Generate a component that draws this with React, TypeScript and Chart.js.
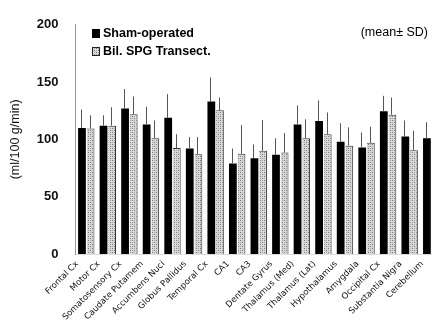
import React, { useEffect, useRef } from "react";
import { Chart, registerables } from "chart.js";

Chart.register(...registerables);

const regions = [
  "Frontal Cx", "Motor Cx", "Somatosensory Cx", "Caudate Putamem", "Accumbens Nuci",
  "Globus Pallidus", "Temporal Cx", "CA1", "CA3", "Dentate Gyrus", "Thalamus (Med)",
  "Thalamus (Lat)", "Hypothalamus", "Amygdala", "Occipital Cx", "Substantia Nigra", "Cerebellum",
];
const shamMean = [110, 112, 127, 113, 119, 92, 133, 79, 83.5, 86.5, 113, 116, 98, 93, 124.5, 102.5, 101];
const shamSD = [16, 9, 17, 15.5, 20.5, 10, 21, 13, 12, 14.5, 16.5, 18, 16, 13, 13.5, 14, 14];
const spgMean = [109.5, 112, 122, 101, 92.5, 87, 125.5, 87.5, 90, 88.5, 101, 104.5, 94.5, 97, 121.5, 90.5, 98];
const spgSD = [11.5, 16, 15.5, 15.5, 12, 15, 11, 25, 27, 17, 16.5, 19, 16, 14, 15, 17, 14];
const seriesLabels = ["Sham-operated", "Bil. SPG Transect."];
const noteText = "(mean\u00b1 SD)";
const yTitle = "(ml/100 g/min)";

function makePattern(): CanvasPattern | string {
  const c = document.createElement("canvas");
  c.width = 4;
  c.height = 4;
  const g = c.getContext("2d");
  if (!g) return "#bbb";
  g.fillStyle = "#d8d8d8";
  g.fillRect(0, 0, 4, 4);
  g.fillStyle = "#7a7a7a";
  g.fillRect(0, 0, 1, 1);
  g.fillRect(2, 2, 1, 1);
  g.fillStyle = "#aaaaaa";
  g.fillRect(2, 0, 1, 1);
  g.fillRect(0, 2, 1, 1);
  const ctx = document.createElement("canvas").getContext("2d");
  return ctx ? (ctx.createPattern(c, "repeat") as CanvasPattern) : "#bbb";
}

export default function App() {
  const ref = useRef<HTMLCanvasElement | null>(null);

  useEffect(() => {
    if (!ref.current) return;
    const pattern = makePattern();
    const sds = [shamSD, spgSD];

    const extras = {
      id: "extras",
      afterDatasetsDraw(chart: any) {
        const ctx = chart.ctx;
        const y = chart.scales.y;
        ctx.save();
        ctx.strokeStyle = "#555";
        ctx.lineWidth = 1;
        chart.data.datasets.forEach((ds: any, di: number) => {
          const meta = chart.getDatasetMeta(di);
          meta.data.forEach((bar: any, i: number) => {
            const v = ds.data[i];
            if (v == null) return;
            const top = y.getPixelForValue(v + sds[di][i]);
            const x = Math.round(bar.x - 1) + 0.5;
            ctx.beginPath();
            ctx.moveTo(x, bar.y);
            ctx.lineTo(x, top);
            ctx.stroke();
          });
        });
        // legend
        ctx.font = "bold 12.5px 'Liberation Sans', Arial, sans-serif";
        ctx.textBaseline = "middle";
        ctx.fillStyle = "#000";
        ctx.fillRect(92, 29, 8, 9);
        ctx.fillText(seriesLabels[0], 103, 34);
        ctx.fillStyle = pattern as any;
        ctx.fillRect(92, 47, 8, 9);
        ctx.strokeStyle = "#222";
        ctx.strokeRect(92.5, 47.5, 7, 8);
        ctx.fillStyle = "#000";
        ctx.fillText(seriesLabels[1], 103, 52);
        ctx.font = "12.5px 'Liberation Sans', Arial, sans-serif";
        ctx.textAlign = "right";
        ctx.fillText(noteText, 428, 33);
        ctx.restore();
      },
    };

    const chart = new Chart(ref.current, {
      type: "bar",
      data: {
        labels: regions,
        datasets: [
          {
            label: seriesLabels[0],
            data: shamMean,
            backgroundColor: "#000",
            borderWidth: 0,
          },
          {
            label: seriesLabels[1],
            data: spgMean,
            backgroundColor: pattern as any,
            borderColor: "#333",
            borderWidth: { left: 0, right: 1, top: 1, bottom: 0 } as any,
          },
        ],
      },
      options: {
        responsive: false,
        animation: false,
        events: [],
        layout: { padding: { top: 17, right: 4, left: 4, bottom: 0 } },
        plugins: { legend: { display: false }, tooltip: { enabled: false } },
        scales: {
          x: {
            offset: true,
            grid: { display: false, drawTicks: false },
            border: { display: true, color: "#ddd" },
            afterFit: (s: any) => {
              s.height = 79;
            },
            ticks: {
              minRotation: 45,
              maxRotation: 45,
              autoSkip: false,
              padding: 5,
              labelOffset: -9,
              color: "#111",
              font: { family: "'DejaVu Sans', sans-serif", size: 8.5 },
            },
            categoryPercentage: 0.7,
            barPercentage: 1.0,
          } as any,
          y: {
            min: 0,
            max: 200,
            grid: { display: false, drawTicks: false },
            border: { display: true, color: "#999", dash: [1, 2] },
            afterFit: (s: any) => {
              s.width = 71.5;
            },
            ticks: {
              stepSize: 50,
              padding: 17,
              color: "#111",
              font: { family: "'Liberation Sans', Arial, sans-serif", size: 13, weight: "bold" },
            },
            title: {
              display: true,
              text: yTitle,
              color: "#111",
              padding: { top: 4, bottom: 5 },
              font: { family: "'Liberation Sans', Arial, sans-serif", size: 12.5 },
            },
          } as any,
        },
      },
      plugins: [extras],
    });
    return () => chart.destroy();
  }, []);

  return (
    <div
      style={{
        position: "fixed",
        left: 0,
        top: 0,
        width: 432,
        height: 333,
        overflow: "hidden",
        background: "#fff",
      }}
    >
      <canvas ref={ref} width={446} height={333} style={{ display: "block" }} />
    </div>
  );
}
